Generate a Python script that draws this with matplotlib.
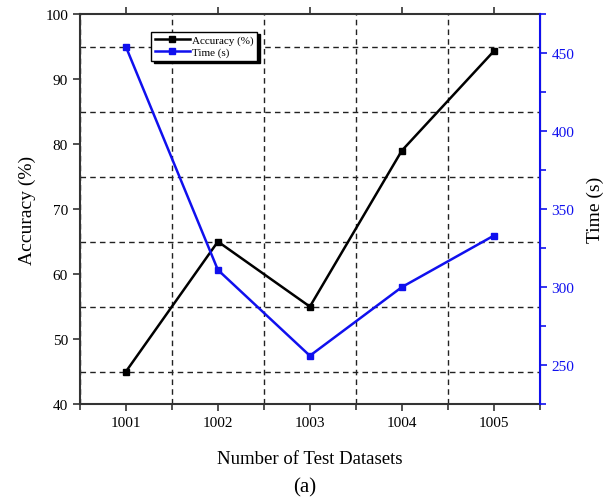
import matplotlib
matplotlib.use("Agg")
import matplotlib.pyplot as plt
from matplotlib.ticker import MultipleLocator

datasets = [1001, 1002, 1003, 1004, 1005]
accuracy = [45, 65, 55, 79, 94.3]
time_s = [454, 311, 256, 300, 333]

BLUE = "#1010ee"
plt.rcParams["font.family"] = ["Liberation Serif", "DejaVu Serif"]

fig = plt.figure(figsize=(6.1, 5.02), dpi=100)
ax = fig.add_axes([0.131, 0.193, 0.754, 0.777])
ax2 = ax.twinx()

l1, = ax.plot(datasets, accuracy, color="black", lw=1.8, marker="s", ms=5,
              label="Accuracy (%)", zorder=3)
l2, = ax2.plot(datasets, time_s, color=BLUE, lw=1.8, marker="s", ms=5,
               label="Time (s)", zorder=3)

ax.set_xlim(1000.5, 1005.5)
ax.set_ylim(40, 100)
ax2.set_ylim(225, 475)
ax.set_xticks(datasets)
ax.xaxis.set_minor_locator(MultipleLocator(1, offset=0.5))
ax.yaxis.set_major_locator(MultipleLocator(10))
ax.yaxis.set_minor_locator(MultipleLocator(10, offset=5))
ax2.yaxis.set_major_locator(MultipleLocator(50))
ax2.yaxis.set_minor_locator(MultipleLocator(50, offset=25))

# dashed grid sits on the minor positions, between the labelled values
ax.grid(which="minor", ls=(0, (4, 3)), color="#222222", lw=1.0)
ax.set_axisbelow(True)

for s in ["left", "bottom", "top"]:
    ax.spines[s].set_linewidth(1.5)
    ax.spines[s].set_color("#333333")
ax2.spines["right"].set_color(BLUE)
ax2.spines["right"].set_linewidth(1.5)
for s in ["left", "bottom", "top"]:
    ax2.spines[s].set_visible(False)

ax.tick_params(axis="both", which="major", direction="out", length=5, width=1.2,
               labelsize=11, color="#333333")
ax.tick_params(axis="x", which="major", top=True, labeltop=False)
ax.tick_params(axis="x", which="minor", direction="out", length=4, width=1.2,
               color="#333333")
ax.tick_params(axis="y", which="minor", length=0)
ax2.tick_params(axis="y", which="major", direction="out", length=5, width=1.2,
                colors=BLUE, labelsize=11)
ax2.tick_params(axis="y", which="minor", direction="out", length=4, width=1.2,
                color=BLUE)

ax.set_xlabel("Number of Test Datasets", fontsize=13.5, labelpad=15)
ax.set_ylabel("Accuracy (%)", fontsize=14, labelpad=7)
ax2.set_ylabel("Time (s)", fontsize=14, labelpad=9)

leg = ax2.legend(handles=[l1, l2], loc="upper left", bbox_to_anchor=(0.155, 0.955),
                 fontsize=8, frameon=True, fancybox=False, borderpad=0.3,
                 handlelength=3.2, handletextpad=0.2, labelspacing=0.2,
                 borderaxespad=0, shadow={"color": "black", "alpha": 1})
leg.get_frame().set_edgecolor("black")
leg.get_frame().set_linewidth(1.0)

fig.text(0.5, 0.028, "(a)", ha="center", va="center", fontsize=15)

fig.savefig("out.png", dpi=100, facecolor="white")
